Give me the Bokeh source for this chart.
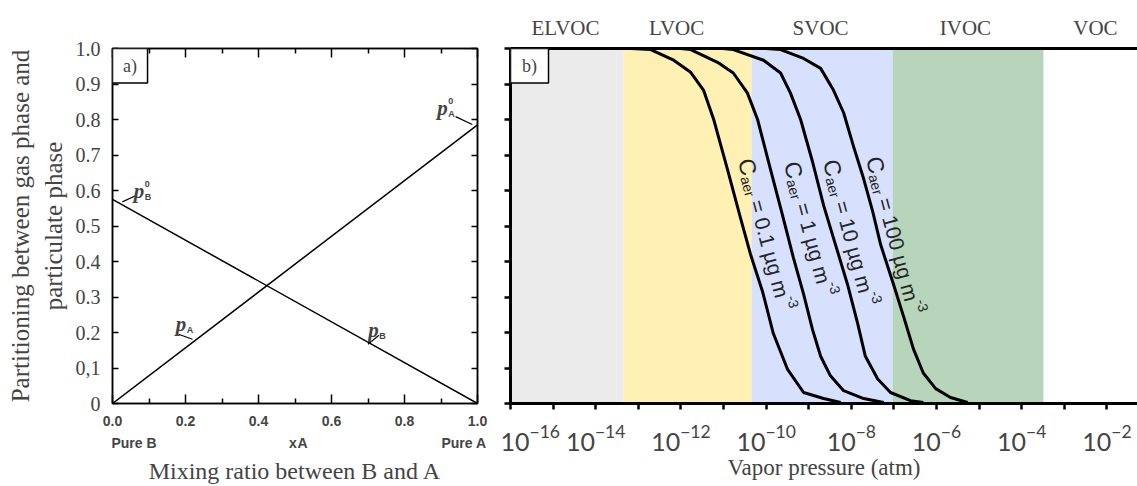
import math
from bokeh.plotting import figure
from bokeh.layouts import row
from bokeh.models import (LinearAxis, LogAxis, FixedTicker, Label, BoxAnnotation,
                          Range1d, CustomJSTickFormatter, LogTickFormatter, NumeralTickFormatter)
from bokeh.embed import file_html
from bokeh.resources import INLINE

# ---------------- data: panel a ----------------
mix_x = [0.0, 1.0]
p_A = [0.0, 0.785]
p_B = [0.575, 0.0]

# ---------------- data: panel b (log10 vapor pressure [atm], particle fraction) ----------------
c01_logp = [-13.18, -12.71, -12.17, -11.77, -11.47, -11.23, -10.91, -10.60, -10.37, -10.08, -9.83, -9.50, -9.12, -8.65, -8.25]
c01_frac = [1.0, 0.997, 0.967, 0.933, 0.883, 0.80, 0.661, 0.522, 0.422, 0.314, 0.197, 0.097, 0.031, 0.014, 0.003]
c1_logp = [-12.01, -11.77, -11.14, -10.77, -10.44, -10.20, -9.90, -9.62, -9.36, -9.12, -8.91, -8.72, -8.49, -8.18, -7.71, -7.24]
c1_frac = [1.0, 0.997, 0.961, 0.931, 0.875, 0.80, 0.661, 0.533, 0.411, 0.308, 0.208, 0.133, 0.078, 0.036, 0.014, 0.003]
c10_logp = [-11.02, -10.77, -10.06, -9.66, -9.43, -9.19, -8.91, -8.65, -8.37, -8.09, -7.85, -7.67, -7.38, -7.08, -6.61, -6.31]
c10_frac = [1.0, 0.997, 0.967, 0.931, 0.875, 0.80, 0.681, 0.558, 0.447, 0.336, 0.225, 0.133, 0.069, 0.031, 0.008, 0.003]
c100_logp = [-10.01, -9.66, -9.12, -8.72, -8.42, -8.18, -7.95, -7.71, -7.50, -7.31, -7.01, -6.77, -6.54, -6.31, -6.02, -5.67, -5.27]
c100_frac = [1.0, 0.997, 0.972, 0.944, 0.883, 0.819, 0.725, 0.633, 0.542, 0.447, 0.336, 0.244, 0.153, 0.086, 0.042, 0.017, 0.003]
curve_values = ["0.1", "1", "10", "100"]

band_edges = [-16.0, -13.35, -10.34, -7.03, -3.49]
band_colors = ["#EBEBEB", "#FFF0B4", "#D7E0FC", "#B6D5BB"]
class_names = ["ELVOC", "LVOC", "SVOC", "IVOC", "VOC"]
class_pos = [-14.71, -12.10, -8.72, -5.32, -2.27]

mix_caption_pos = [0.059, 0.494, 0.521, 0.963]
mix_caption_text = ["Pure B", "x", "A", "Pure A"]

SERIF = "Liberation Serif"
SANS = "Liberation Sans"

# ================= panel a =================
pa = figure(width=500, height=486, x_range=Range1d(0, 1), y_range=Range1d(0, 1),
            output_backend="svg", toolbar_location=None,
            x_axis_location=None, y_axis_location=None,
            min_border_left=112, min_border_right=23, min_border_top=48, min_border_bottom=79)
pa.grid.visible = False
pa.outline_line_color = "black"
pa.outline_line_width = 1.5

empty_fmt = CustomJSTickFormatter(code="return ''")
xt = dict(ticks=[0.0, 0.2, 0.4, 0.6, 0.8, 1.0], minor_ticks=[0.1, 0.3, 0.5, 0.7, 0.9])
yt = [0.0, 0.1, 0.2, 0.3, 0.4, 0.5, 0.6, 0.7, 0.8, 0.9, 1.0]

ax_b = LinearAxis(ticker=FixedTicker(**xt), formatter=NumeralTickFormatter(format="0.0"),
                  major_tick_in=9, major_tick_out=0, minor_tick_in=5, minor_tick_out=0,
                  axis_line_width=1.5, major_tick_line_width=1.5, minor_tick_line_width=1.5,
                  major_label_text_font=SANS, major_label_text_font_style="bold",
                  major_label_text_font_size="14px", major_label_standoff=12)
ax_b2 = LinearAxis(ticker=FixedTicker(ticks=mix_caption_pos, minor_ticks=[]),
                   formatter=CustomJSTickFormatter(args=dict(names=mix_caption_text), code="return names[index]"),
                   major_tick_in=0, major_tick_out=0, axis_line_color=None,
                   major_label_text_font=SANS, major_label_text_font_style="bold",
                   major_label_text_font_size="14px", major_label_standoff=6,
                   axis_label="Mixing ratio between B and A", axis_label_text_font=SERIF,
                   axis_label_text_font_style="normal", axis_label_text_font_size="24px",
                   axis_label_standoff=4)
ax_t = LinearAxis(ticker=FixedTicker(**xt), formatter=empty_fmt,
                  major_tick_in=9, major_tick_out=0, minor_tick_in=5, minor_tick_out=0,
                  axis_line_width=1.5, major_tick_line_width=1.5, minor_tick_line_width=1.5,
                  major_label_standoff=0)
ax_l = LinearAxis(ticker=FixedTicker(ticks=yt, minor_ticks=[]),
                  formatter=CustomJSTickFormatter(code="if (Math.abs(tick) < 1e-9) return '0'; if (Math.abs(tick-0.1) < 1e-9) return '0,1'; return tick.toFixed(1);"),
                  major_tick_in=6, major_tick_out=0, axis_line_width=1.5, major_tick_line_width=1.5,
                  major_label_text_font=SERIF, major_label_text_font_size="20px",
                  major_label_standoff=12,
                  axis_label="Partitioning between gas phase and\nparticulate phase",
                  axis_label_text_font=SERIF, axis_label_text_font_style="normal",
                  axis_label_text_font_size="25px", axis_label_standoff=6)
ax_r = LinearAxis(ticker=FixedTicker(ticks=yt, minor_ticks=[]), formatter=empty_fmt,
                  major_tick_in=6, major_tick_out=0, axis_line_width=1.5, major_tick_line_width=1.5,
                  major_label_standoff=0)
pa.add_layout(ax_b, "below")
pa.add_layout(ax_b2, "below")
pa.add_layout(ax_t, "above")
pa.add_layout(ax_l, "left")
pa.add_layout(ax_r, "right")

pa.line(mix_x, p_A, line_color="black", line_width=1.5)
pa.line(mix_x, p_B, line_color="black", line_width=1.5)

# leader lines for annotations (x0, y0, x1, y1)
leaders = [(0.027, 0.568, 0.063, 0.585), (0.94, 0.808, 0.986, 0.786),
           (0.181, 0.195, 0.219, 0.181), (0.70, 0.167, 0.73, 0.192)]
pa.segment(x0=[l[0] for l in leaders], y0=[l[1] for l in leaders],
           x1=[l[2] for l in leaders], y1=[l[3] for l in leaders], line_color="black", line_width=1.2)

def p_label(fig, x, y, sub, sup=None):
    fig.add_layout(Label(x=x, y=y, text="p", text_font=SERIF, text_font_style="bold italic",
                         text_font_size="21px", text_baseline="alphabetic", text_align="left"))
    fig.add_layout(Label(x=x, y=y, x_offset=11, y_offset=-6, text=sub, text_font=SANS,
                         text_font_style="bold", text_font_size="9px", text_baseline="alphabetic"))
    if sup:
        fig.add_layout(Label(x=x, y=y, x_offset=11, y_offset=7, text=sup, text_font=SANS,
                             text_font_style="bold", text_font_size="9px", text_baseline="alphabetic"))

p_label(pa, 0.058, 0.599, "B", "0")
p_label(pa, 0.890, 0.833, "A", "0")
p_label(pa, 0.173, 0.223, "A")
p_label(pa, 0.701, 0.206, "B")

pa.add_layout(BoxAnnotation(left=0.0, right=0.096, bottom=0.903, top=1.0, fill_color="white", fill_alpha=1.0,
                            line_color="black", line_width=1.5, line_alpha=1.0))
pa.add_layout(Label(x=0.048, y=0.951, text="a)", text_font=SERIF, text_font_size="18px",
                    text_baseline="middle", text_align="center"))

# ================= panel b =================
PXD = 42.6            # pixels per decade
FW = 627              # frame width in px
FH = 360
x_lo = -16.0
x_hi = x_lo + FW / PXD

pb = figure(width=637, height=486, x_axis_type="log",
            x_range=Range1d(10 ** x_lo, 10 ** x_hi), y_range=Range1d(0, 1),
            output_backend="svg", toolbar_location=None,
            x_axis_location=None, y_axis_location=None,
            min_border_left=10, min_border_right=0, min_border_top=48, min_border_bottom=78)
pb.grid.visible = False
pb.outline_line_color = None

major_dec = [10.0 ** e for e in range(-16, -1, 2)]
minor_dec = [10.0 ** e for e in range(-15, 0, 2)]
bx = LogAxis(ticker=FixedTicker(ticks=major_dec, minor_ticks=minor_dec), formatter=LogTickFormatter(),
             major_tick_out=6, major_tick_in=0, minor_tick_out=6, minor_tick_in=0,
             axis_line_width=3, major_tick_line_width=2.5, minor_tick_line_width=2.5,
             major_label_text_font="Lato", major_label_text_font_size="25px",
             major_label_standoff=15,
             axis_label="Vapor pressure (atm)", axis_label_text_font=SERIF,
             axis_label_text_font_style="normal", axis_label_text_font_size="23px",
             axis_label_standoff=1)
tx = LogAxis(ticker=FixedTicker(ticks=[10 ** v for v in class_pos], minor_ticks=[]),
             formatter=CustomJSTickFormatter(args=dict(names=class_names), code="return names[index]"),
             major_tick_out=0, major_tick_in=0, minor_tick_out=0, minor_tick_in=0,
             axis_line_width=3, major_label_standoff=9,
             major_label_text_font=SERIF, major_label_text_font_size="21px")
ly = LinearAxis(ticker=FixedTicker(ticks=yt, minor_ticks=[]), formatter=empty_fmt,
                major_tick_out=6, major_tick_in=0, axis_line_width=3, major_tick_line_width=2.5,
                major_label_standoff=0)
pb.add_layout(bx, "below")
pb.add_layout(tx, "above")
pb.add_layout(ly, "left")

pb.quad(left=[10 ** e for e in band_edges[:-1]], right=[10 ** e for e in band_edges[1:]],
        bottom=0, top=1, fill_color=band_colors, line_color=None)

for lp, fr in [(c01_logp, c01_frac), (c1_logp, c1_frac), (c10_logp, c10_frac), (c100_logp, c100_frac)]:
    pb.line([10 ** v for v in lp], fr, line_color="black", line_width=3, line_join="round")

pb.add_layout(BoxAnnotation(left=10 ** x_lo, right=10 ** (x_lo + 38 / PXD), bottom=0.903, top=1.0,
                            fill_color="white", fill_alpha=1.0, line_color="black", line_width=1.5, line_alpha=1.0))
pb.add_layout(Label(x=10 ** (x_lo + 19 / PXD), y=0.951, text="b)", text_font=SERIF, text_font_size="18px",
                    text_baseline="middle", text_align="center"))

# rotated curve labels: C_aer = X µg m^-3
W = {'C': 0.722, 'a': 0.556, 'e': 0.556, 'r': 0.333, ' ': 0.278, '=': 0.584, '0': 0.556, '1': 0.556,
     '.': 0.278, 'µ': 0.576, 'g': 0.556, 'm': 0.833, '-': 0.333, '3': 0.556}
def tw(s, size):
    return sum(W.get(ch, 0.556) for ch in s) * size

theta = math.radians(-75)
ux, uy = math.cos(theta), math.sin(theta)
vx, vy = -math.sin(theta), math.cos(theta)
label_anchor_px = [(745, 160), (791, 163), (830, 161), (873, 158)]
TXT = "#262626"
for val, (X, Y) in zip(curve_values, label_anchor_px):
    ax_ = 10 ** (x_lo + (X - 510) / PXD)
    ay_ = (408 - Y) / FH
    main = "= " + val + " µg m"
    s_sub = tw("C", 23) + 0.5
    s_main = tw("C", 23) + tw("aer", 14) + 6
    s_sup = s_main + tw(main, 21) + 1
    pieces = [("C", 0, 0, "23px"), ("aer", s_sub, -5, "14px"), (main, s_main, 0, "21px"), ("-3", s_sup, 9, "14px")]
    for txt, s, t, fs in pieces:
        pb.add_layout(Label(x=ax_, y=ay_, x_offset=s * ux + t * vx, y_offset=s * uy + t * vy,
                            angle=theta, text=txt, text_font=SANS, text_font_size=fs, text_color=TXT,
                            text_baseline="alphabetic", text_align="left"))

layout = row(pa, pb)
open("out.html", "w").write(file_html(layout, INLINE))
